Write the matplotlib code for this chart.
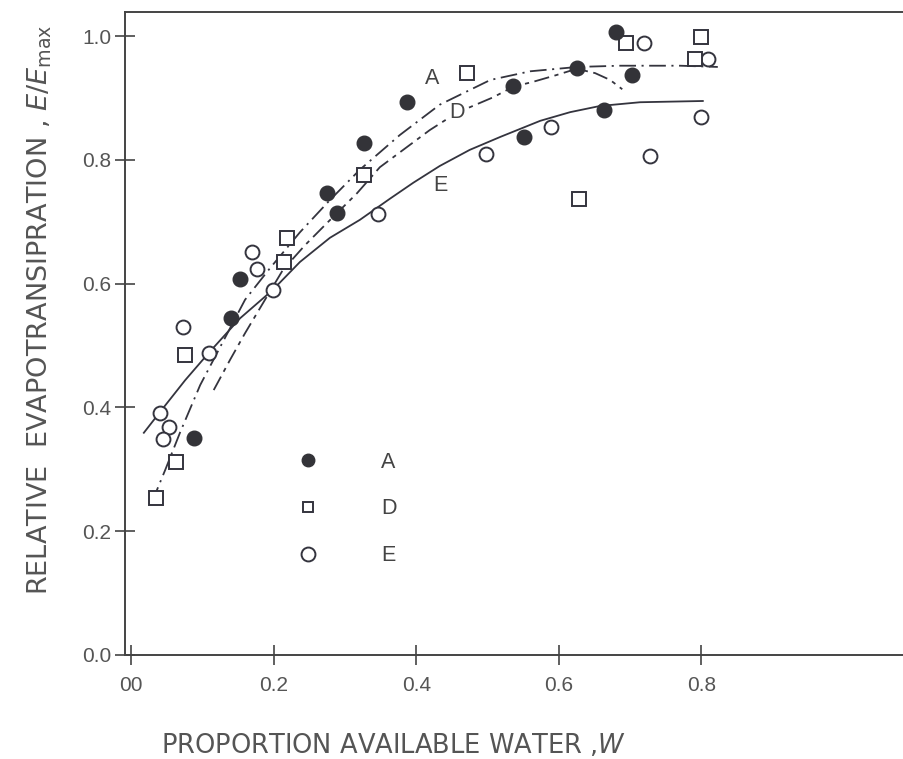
import matplotlib
matplotlib.use("Agg")
import matplotlib.pyplot as plt
from matplotlib.lines import Line2D

plt.rcParams['font.family'] = ['Liberation Sans', 'DejaVu Sans']
plt.rcParams['mathtext.fontset'] = 'custom'
plt.rcParams['mathtext.rm'] = 'DejaVu Sans'
plt.rcParams['mathtext.it'] = 'DejaVu Sans:italic'
plt.rcParams['lines.scale_dashes'] = False

# ---- data ----
A_x = [0.088, 0.140, 0.153, 0.275, 0.289, 0.327, 0.387, 0.536, 0.551, 0.626, 0.663, 0.680, 0.703]
A_y = [0.351, 0.544, 0.607, 0.746, 0.714, 0.827, 0.893, 0.919, 0.837, 0.948, 0.880, 1.006, 0.937]
D_x = [0.035, 0.063, 0.076, 0.215, 0.219, 0.327, 0.471, 0.628, 0.694, 0.791, 0.799]
D_y = [0.254, 0.312, 0.485, 0.635, 0.674, 0.775, 0.940, 0.737, 0.989, 0.963, 0.998]
E_x = [0.041, 0.053, 0.045, 0.073, 0.109, 0.170, 0.177, 0.199, 0.346, 0.498, 0.589, 0.719, 0.728, 0.799, 0.809]
E_y = [0.391, 0.368, 0.349, 0.530, 0.488, 0.651, 0.624, 0.590, 0.712, 0.809, 0.853, 0.989, 0.806, 0.869, 0.963]

# fitted curves (traced)
curveA_x = [0.029, 0.048, 0.069, 0.097, 0.128, 0.160, 0.195, 0.237, 0.279, 0.321, 0.377, 0.433, 0.504, 0.560, 0.626, 0.686, 0.770, 0.823]
curveA_y = [0.246, 0.299, 0.360, 0.436, 0.504, 0.574, 0.625, 0.683, 0.735, 0.784, 0.840, 0.889, 0.929, 0.943, 0.950, 0.952, 0.952, 0.950]
curveD_x = [0.116, 0.139, 0.160, 0.188, 0.213, 0.244, 0.275, 0.317, 0.349, 0.419, 0.457, 0.508, 0.536, 0.564, 0.597, 0.625, 0.651, 0.672, 0.689]
curveD_y = [0.428, 0.477, 0.520, 0.574, 0.622, 0.662, 0.698, 0.746, 0.788, 0.848, 0.876, 0.901, 0.918, 0.926, 0.937, 0.947, 0.940, 0.929, 0.914]
curveE_x = [0.018, 0.041, 0.076, 0.109, 0.153, 0.199, 0.237, 0.279, 0.321, 0.363, 0.396, 0.433, 0.475, 0.518, 0.574, 0.616, 0.658, 0.714, 0.802]
curveE_y = [0.359, 0.393, 0.444, 0.488, 0.544, 0.590, 0.635, 0.674, 0.703, 0.737, 0.763, 0.790, 0.816, 0.837, 0.863, 0.877, 0.887, 0.893, 0.895]

x_ticks = [0.0, 0.2, 0.4, 0.6, 0.8]
x_tick_labels = ['00', '0.2', '0.4', '0.6', '0.8']
y_ticks = [0.0, 0.2, 0.4, 0.6, 0.8, 1.0]
y_tick_labels = ['0.0', '0.2', '0.4', '0.6', '0.8', '1.0']
series_labels = ['A', 'D', 'E']

W, H = 904, 759
fig = plt.figure(figsize=(W / 100, H / 100), dpi=100)
L, T, R, B = 125, 12, 904, 655
ax = fig.add_axes([L / W, 1 - B / H, (R - L) / W, (B - T) / H])

ink = '#34343e'
lw = 1.3
ax.plot(curveE_x, curveE_y, color=ink, lw=lw, ls='-')
ax.plot(curveD_x, curveD_y, color=ink, lw=lw, ls=(0, (11, 4, 3, 4)))
ax.plot(curveA_x, curveA_y, color=ink, lw=lw, ls=(0, (12, 4, 1.5, 4)))

ax.plot(E_x, E_y, ls='none', marker='o', ms=10, mfc='white', mec=ink, mew=1.4)
ax.plot(D_x, D_y, ls='none', marker='s', ms=9.5, mfc='white', mec=ink, mew=1.4)
ax.plot(A_x, A_y, ls='none', marker='o', ms=10.5, mfc='#333338', mec='#333338', mew=1)

# curve labels
ax.text(0.422, 0.932, 'A', fontsize=15.5, color='#444', ha='center', va='center')
ax.text(0.457, 0.876, 'D', fontsize=15.5, color='#444', ha='center', va='center',
        bbox=dict(facecolor='white', edgecolor='none', pad=0.5))
ax.text(0.434, 0.759, 'E', fontsize=15.5, color='#444', ha='center', va='center')

# legend
handles = [Line2D([], [], ls='none', marker='o', ms=9, mfc='#333338', mec='#333338'),
           Line2D([], [], ls='none', marker='s', ms=7.5, mfc='white', mec=ink, mew=1.4),
           Line2D([], [], ls='none', marker='o', ms=10, mfc='white', mec=ink, mew=1.4)]
leg = fig.legend(handles, series_labels, loc='center left',
                 bbox_to_anchor=(297 / W, 1 - 509 / H), bbox_transform=fig.transFigure,
                 frameon=False, fontsize=15.5, handlelength=1.0, handletextpad=2.9,
                 labelspacing=1.2, borderpad=0, borderaxespad=0)
for t in leg.get_texts():
    t.set_color('#444')

ax.set_xlim((L - 131) / 713, (R - 131) / 713)
ax.set_ylim(0, (655 - 12) / 619)
ax.set_xticks(x_ticks)
ax.set_xticklabels(x_tick_labels)
ax.set_yticks(y_ticks)
ax.set_yticklabels(y_tick_labels)
ax.tick_params(axis='both', direction='inout', length=14, width=1.2, color='#444',
               labelsize=15, labelcolor='#555')
ax.tick_params(axis='x', pad=8)
ax.tick_params(axis='y', pad=3)
for s in ['left', 'bottom', 'top']:
    ax.spines[s].set_color('#444')
    ax.spines[s].set_linewidth(1.4)
ax.spines['right'].set_visible(False)

fig.text(393 / W, 1 - 745 / H, 'PROPORTION AVAILABLE WATER ,$\\it{W}$', fontsize=18.5,
         family='DejaVu Sans', color='#555', ha='center', va='center')
fig.text(40 / W, 1 - 310 / H, 'RELATIVE  EVAPOTRANSIPRATION , $\\it{E/E}_{\\rm max}$',
         fontsize=19.5, family='DejaVu Sans', color='#555', ha='center', va='center',
         rotation=90)

fig.savefig('out.png', dpi=100, facecolor='white')
